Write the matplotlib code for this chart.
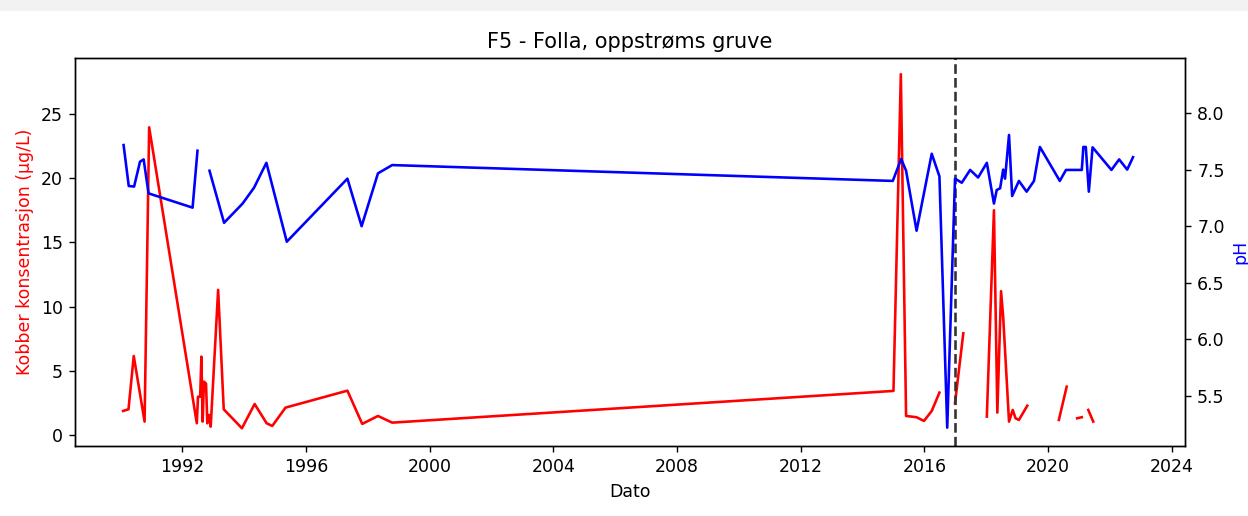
import numpy as np
import pandas as pd
import matplotlib
matplotlib.use("Agg")
from matplotlib import pyplot as plt
from matplotlib.patches import Rectangle

# Kobber (ug/L) - NaN gives the gaps in the line
cu_dates = ['1990-02-01', '1990-04-05', '1990-06-06', '1990-10-12', '1990-12-05',
            '1992-06-20', '1992-07-04', '1992-07-30', '1992-08-13', '1992-08-28',
            '1992-09-12', '1992-10-07', '1992-10-22', '1992-11-13', '1992-12-01',
            '1993-02-27', '1993-05-04', '1993-12-05', '1994-05-04', '1994-09-23',
            '1994-11-28', '1995-05-04', '1997-05-04', '1997-10-26', '1998-04-30',
            '1998-10-15', '2015-01-01', '2015-03-29', '2015-05-30', '2015-10-01',
            '2015-12-27', '2016-03-28', '2016-06-27', '2016-09-15', '2016-12-28',
            '2017-04-05', '2017-08-01', '2018-01-08', '2018-04-02', '2018-05-12',
            '2018-06-25', '2018-07-20', '2018-09-27', '2018-11-10', '2018-12-13',
            '2019-01-22', '2019-05-01', '2019-10-01', '2020-05-08', '2020-08-08',
            '2020-10-20', '2020-12-10', '2021-02-03', '2021-03-10', '2021-04-20',
            '2021-06-18']
cu_values = [1.87, 2.0, 6.15, 1.04, 23.96,
             0.91, 2.98, 2.98, 6.1, 1.04,
             4.15, 4.0, 0.91, 1.56, 0.65,
             11.3, 2.0, 0.52, 2.41, 0.91,
             0.7, 2.13, 3.45, 0.86, 1.48,
             0.96, 3.43, 28.1, 1.48, 1.38,
             1.09, 1.87, 3.3, np.nan, 2.47,
             7.92, np.nan, 1.43, 17.5, 1.74,
             11.2, 9.2, 1.04, 1.95, 1.3,
             1.17, 2.28, np.nan, 1.17, 3.76,
             np.nan, 1.3, 1.38, np.nan, 1.95,
             1.04]

# pH
ph_dates = ['1990-02-06', '1990-04-08', '1990-06-10', '1990-08-19', '1990-10-01',
            '1990-11-28', '1992-05-01', '1992-06-28', '1992-08-15', '1992-11-17',
            '1993-05-08', '1993-12-13', '1994-04-27', '1994-09-20', '1995-05-19',
            '1997-05-04', '1997-10-19', '1998-04-30', '1998-10-15', '2014-12-24',
            '2015-04-02', '2015-05-30', '2015-10-01', '2016-03-28', '2016-06-27',
            '2016-09-27', '2016-12-28', '2017-03-18', '2017-06-25', '2017-09-27',
            '2018-01-08', '2018-04-02', '2018-05-05', '2018-06-14', '2018-07-20',
            '2018-08-11', '2018-09-27', '2018-11-03', '2019-01-22', '2019-04-23',
            '2019-07-19', '2019-09-27', '2020-05-19', '2020-07-31', '2021-02-03',
            '2021-02-21', '2021-03-22', '2021-04-27', '2021-06-10', '2022-01-19',
            '2022-04-20', '2022-07-24', '2022-10-01']
ph_values = [7.717, 7.355, 7.35, 7.57, 7.59,
             7.29, 7.164, 7.667, np.nan, 7.49,
             7.03, 7.2, 7.34, 7.56, 6.863,
             7.42, 7.0, 7.467, 7.54, 7.40,
             7.594, 7.49, 6.96, 7.64, 7.44,
             5.22, 7.42, 7.384, 7.497, 7.43,
             7.56, 7.2, 7.32, 7.335, 7.5,
             7.42, 7.806, 7.267, 7.4, 7.305,
             7.40, 7.70, 7.40, 7.497, 7.497,
             7.70, 7.70, 7.305, 7.697, 7.497,
             7.59, 7.5, 7.61]

tiltak_dato = '2017-01-01'

cu = pd.Series(cu_values, index=pd.to_datetime(cu_dates))
ph = pd.Series(ph_values, index=pd.to_datetime(ph_dates))

DPI = 125
fig = plt.figure(figsize=(1248 / DPI, 516 / DPI), dpi=DPI)
# grey band at top of the notebook screenshot
fig.patches.append(Rectangle((0, 1 - 10 / 516), 1, 10 / 516, transform=fig.transFigure,
                             color='#f2f2f2', zorder=0))
ax = fig.add_axes([75 / 1248, 70 / 516, 1110 / 1248, 388 / 516])
ax2 = ax.twinx()

ax.plot(cu.index, cu.values, color='red')
ax2.plot(ph.index, ph.values, color='blue')
ax.axvline(pd.Timestamp(tiltak_dato), color='#333333', linestyle='--')

ax.set_xlim(pd.Timestamp('1988-07-12'), pd.Timestamp('2024-06-06'))
ax.set_ylim(-0.86, 29.36)
ax2.set_ylim(5.058, 8.486)

ax.set_xlabel('Dato')
ax.set_ylabel('Kobber konsentrasjon (µg/L)', color='red')
ax2.set_ylabel('pH', color='blue')
ax.set_title('F5 - Folla, oppstrøms gruve')

fig.savefig('out.png', dpi=DPI)
